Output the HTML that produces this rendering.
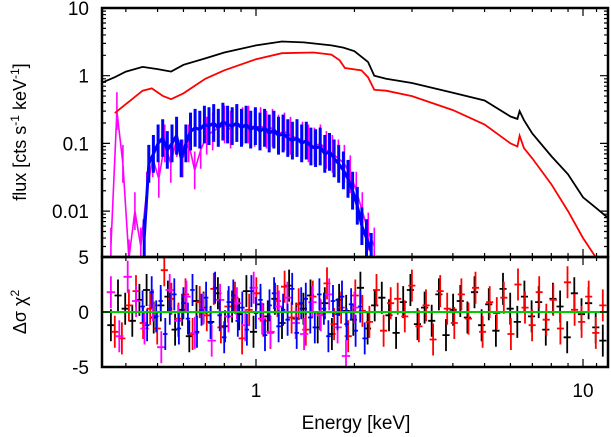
<!DOCTYPE html>
<html><head><meta charset="utf-8"><style>
body{margin:0;background:#fff}
svg{display:block;font-family:"Liberation Sans",sans-serif}
</style></head><body>
<svg id="c" width="611" height="437" viewBox="0 0 611 437">
<defs><clipPath id="cp1"><rect x="103" y="9" width="505" height="248"/></clipPath>
<clipPath id="cp2"><rect x="103" y="258" width="505" height="108"/></clipPath></defs>
<g id="gtop" clip-path="url(#cp1)"></g>
<g id="gbot" clip-path="url(#cp2)"></g>
<g id="ax"></g>
<text x="0" y="0" transform="translate(26,132) rotate(-90)" text-anchor="middle" font-size="18">flux [cts s<tspan dy="-7" font-size="12">-1</tspan><tspan dy="7"> keV</tspan><tspan dy="-7" font-size="12">-1</tspan><tspan dy="7">]</tspan></text>
<text x="0" y="0" transform="translate(26,312) rotate(-90)" text-anchor="middle" font-size="18">Δσ χ<tspan dy="-7" font-size="12">2</tspan></text>
<text x="356" y="429" text-anchor="middle" font-size="19">Energy [keV]</text>
</svg>
<script>
const blackModelE=[0.34,0.37,0.4,0.45,0.5,0.55,0.6,0.7,0.8,1.0,1.2,1.4,1.7,1.85,2.0,2.2,2.3,2.5,3,4,5,6,6.3,6.4,6.6,7,8,9,10,11,11.9];
const blackModelF=[0.8,0.95,1.15,1.35,1.25,1.15,1.45,1.8,2.2,2.8,3.2,3.1,2.8,2.6,2.3,1.6,1.0,0.9,0.78,0.56,0.43,0.25,0.23,0.3,0.22,0.14,0.065,0.035,0.016,0.011,0.008];
const redModelE=[0.37,0.4,0.45,0.48,0.52,0.55,0.6,0.7,0.8,1.0,1.2,1.5,1.7,1.8,1.87,2.1,2.2,2.3,2.5,3,4,5,6,6.3,6.4,6.6,7,8,9,10,11,11.9];
const redModelF=[0.28,0.38,0.6,0.65,0.5,0.45,0.55,0.9,1.2,1.75,2.15,2.2,2.05,1.7,1.3,1.2,0.95,0.62,0.6,0.5,0.31,0.19,0.1,0.09,0.13,0.085,0.06,0.025,0.01,0.004,0.002,0.0012];
const blueFlux=[0.004,0.05,0.07,0.1,0.12,0.08,0.1,0.13,0.06,0.1,0.15,0.17,0.16,0.19,0.18,0.2,0.17,0.21,0.19,0.18,0.2,0.17,0.19,0.16,0.18,0.15,0.17,0.14,0.16,0.13,0.14,0.12,0.11,0.12,0.1,0.11,0.09,0.085,0.09,0.07,0.075,0.06,0.05,0.04,0.03,0.02,0.012,0.006,0.004,0.0025];
const blueRange=[0.455,2.25];
const magFlux=[0.003,0.3,0.05,0.002,0.01,0.003,0.02,0.06,0.03,0.1,0.05,0.12,0.06,0.1,0.04,0.08,0.13,0.15,0.17,0.19,0.16,0.2,0.18,0.19,0.17,0.18,0.16,0.17,0.14,0.15,0.13,0.12,0.11,0.1,0.09,0.1,0.08,0.07,0.06,0.05,0.035,0.02,0.01,0.005,0.003];
const magRange=[0.36,2.3];
const resBlack=[-1.2,1.5,0.3,-0.8,1.1,2.0,-0.5,0.6,1.4,-1.6,0.2,-2.2,1.0,0.4,-0.9,1.7,-1.3,0.5,-0.2,1.9,-1.8,0.7,-0.4,1.2,-1.0,2.4,-0.6,0.3,1.5,-1.4,0.8,-2.0,1.1,0.1,-0.7,2.2,-1.5,0.6,1.3,-0.3,-1.9,0.9,2.0,-1.1,0.4,-0.8,1.6,-2.1,0.2,1.0,-0.5,1.8,-1.2,0.7,-1.7,2.1,0.3,-0.9,1.4,-0.4,0.9,-1.6,1.2,0.5,-2.3,1.7,-0.2,0.8,-1.4,-2.6];
const resRed=[-1.8,-2.4,0.6,1.9,-1.0,0.3,-1.5,3.8,1.2,-0.6,1.6,-2.0,0.9,-0.3,2.1,-1.4,0.5,1.3,-2.4,0.2,1.7,-0.8,-1.9,1.0,2.3,-0.5,0.7,-1.6,1.4,-0.2,2.6,-1.1,0.4,-2.2,1.5,0.1,-0.9,2.0,-1.7,0.8,1.2,-0.4,2.4,-1.3,0.6,-2.5,1.9,0.3,-1.0,1.6,-0.6,2.2,-1.8,0.9,-0.1,1.3,-2.0,2.5,0.4,-1.2,1.8,-0.7,1.1,-1.5,2.7,0.2,-0.9,1.4,-1.9,0.6];
const resBlue=[0.5,-1.2,1.8,-0.4,1.0,-2.0,0.3,1.6,-1.5,0.8,-0.6,2.0,-1.8,0.2,1.3,-1.0,2.2,-0.3,-2.3,0.9,1.5,-0.8,0.4,-1.6,1.9,-0.1,1.1,-2.1,0.6,1.7,-1.3,0.2,-0.7,2.1,-1.9,0.8,1.2,-0.5,-1.4,1.6,0.3,-2.2,1.0,-0.2,1.4,-1.1,0.7,-1.7,0.5,-2.4];
const resBlueRange=[0.45,2.15];
const resMag=[1.8,-2.2,3.2,1.0,-1.5,0.6,-3.2,2.0,-0.8,1.4,-1.9,0.3,-2.6,1.1,-0.4,0.8,-1.2,2.2,-0.6,-1.8,0.5,1.3,-1.0,-2.0,0.9,-0.3,1.6,-1.4,-4.0,0.4];
const resMagRange=[0.36,2.0];
const resBlackRange=[0.36,11.5], resRedRange=[0.37,11.5];
const xTicksMajor=[1,10], xTicksMinor=[0.4,0.5,0.6,0.7,0.8,0.9,2,3,4,5,6,7,8,9,11];
const yTicksMajor=[10,1,0.1,0.01], yTickLabels=["10","1","0.1","0.01"];
const rTicks=[5,0,-5], rTickLabels=["5","0","-5"];

const NS="http://www.w3.org/2000/svg";
const X=e=>256+327*Math.log10(e);
const YF=f=>8+67.7*(1-Math.log10(f));
const YR=r=>312-11*r;
function mk(tag,at,par){const el=document.createElementNS(NS,tag);for(const k in at)el.setAttribute(k,at[k]);par.appendChild(el);return el;}
const gTop=document.getElementById('gtop'),gBot=document.getElementById('gbot'),ax=document.getElementById('ax');
function logE(r,n,i){return Math.pow(10,Math.log10(r[0])+(Math.log10(r[1])-Math.log10(r[0]))*i/(n-1));}
function poly(E,F,col,w,name){let d=E.map((e,i)=>(i?'L':'M')+X(e).toFixed(1)+' '+YF(F[i]).toFixed(1)).join('');
 const p=mk('path',{d:d,fill:'none',stroke:col,'stroke-width':w},gTop);
 
 }
function bars(vals,range,col,fac,w,name){const g=mk('g',{stroke:col,'stroke-width':w},gTop);
 
 
 let d='';vals.forEach((v,i)=>{const e=logE(range,vals.length,i),x=X(e);d+='M'+x.toFixed(1)+' '+YF(v*fac).toFixed(1)+'V'+YF(v/fac).toFixed(1);
 if(i)d+='M'+X(logE(range,vals.length,i-1)).toFixed(1)+' '+YF(vals[i-1]).toFixed(1)+'L'+x.toFixed(1)+' '+YF(v).toFixed(1);});
 mk('path',{d:d,fill:'none'},g);}
bars(magFlux,magRange,'#ff00ff',1.9,1.6,'magenta-spectrum');
bars(blueFlux,blueRange,'#0000ff',1.9,3,'blue-spectrum');
poly(redModelE,redModelF,'#ff0000',1.8,'red-spectrum');
poly(blackModelE,blackModelF,'#000000',1.8,'black-spectrum');
function res(vals,range,col,name){const g=mk('g',{stroke:col,'stroke-width':1.8,fill:'none'},gBot);
 
 
 let d='';const n=vals.length;vals.forEach((v,i)=>{const x=X(logE(range,n,i)),y=YR(v);const hw=Math.max(1.5,(X(logE(range,n,1))-X(logE(range,n,0)))/2);
 d+='M'+x.toFixed(1)+' '+(y-16)+'V'+(y+16)+'M'+(x-hw).toFixed(1)+' '+y.toFixed(1)+'H'+(x+hw).toFixed(1);});
 mk('path',{d:d},g);}
res(resBlack,resBlackRange,'#000','black-residuals');
res(resRed,resRedRange,'#ff0000','red-residuals');
res(resMag,resMagRange,'#ff00ff','magenta-residuals');
res(resBlue,resBlueRange,'#0000ff','blue-residuals');
const zl=mk('line',{x1:103,x2:608,y1:YR(0),y2:YR(0),stroke:'#00cc00','stroke-width':2},gBot);


[[102,8,506,249],[102,257,506,110]].forEach(r=>{const f=mk('rect',{x:r[0],y:r[1],width:r[2],height:r[3],fill:'none',stroke:'#000','stroke-width':2.5},ax);
 
 });
let td='';
xTicksMajor.forEach(e=>{const x=X(e);td+=`M${x} 8v8M${x} 257v-8M${x} 257v8M${x} 367v-8`;});
xTicksMinor.forEach(e=>{const x=X(e);td+=`M${x} 8v4M${x} 257v-4M${x} 257v4M${x} 367v-4`;});
yTicksMajor.forEach(f=>{const y=YF(f);td+=`M102 ${y}h8M608 ${y}h-8`;
 for(let k=2;k<10;k++){const yy=YF(f*k/10);if(yy<257)td+=`M102 ${yy}h4M608 ${yy}h-4`;}});
rTicks.forEach(r=>{const y=YR(r);td+=`M102 ${y}h8M608 ${y}h-8`;});
mk('path',{d:td,stroke:'#000','stroke-width':1.2,fill:'none'},ax);
function lab(x,y,t,anc,name){const el=mk('text',{x:x,y:y,'text-anchor':anc,'font-size':19},ax);el.textContent=t;
 
 }
yTicksMajor.forEach((f,i)=>lab(89,YF(f)+7,yTickLabels[i],'end','y-tick-label'));
rTicks.forEach((r,i)=>lab(89,YR(r)+7,rTickLabels[i],'end','residual-tick-label'));
xTicksMajor.forEach(e=>lab(X(e),397,String(e),'middle','x-tick-label'));
</script>
</body></html>
